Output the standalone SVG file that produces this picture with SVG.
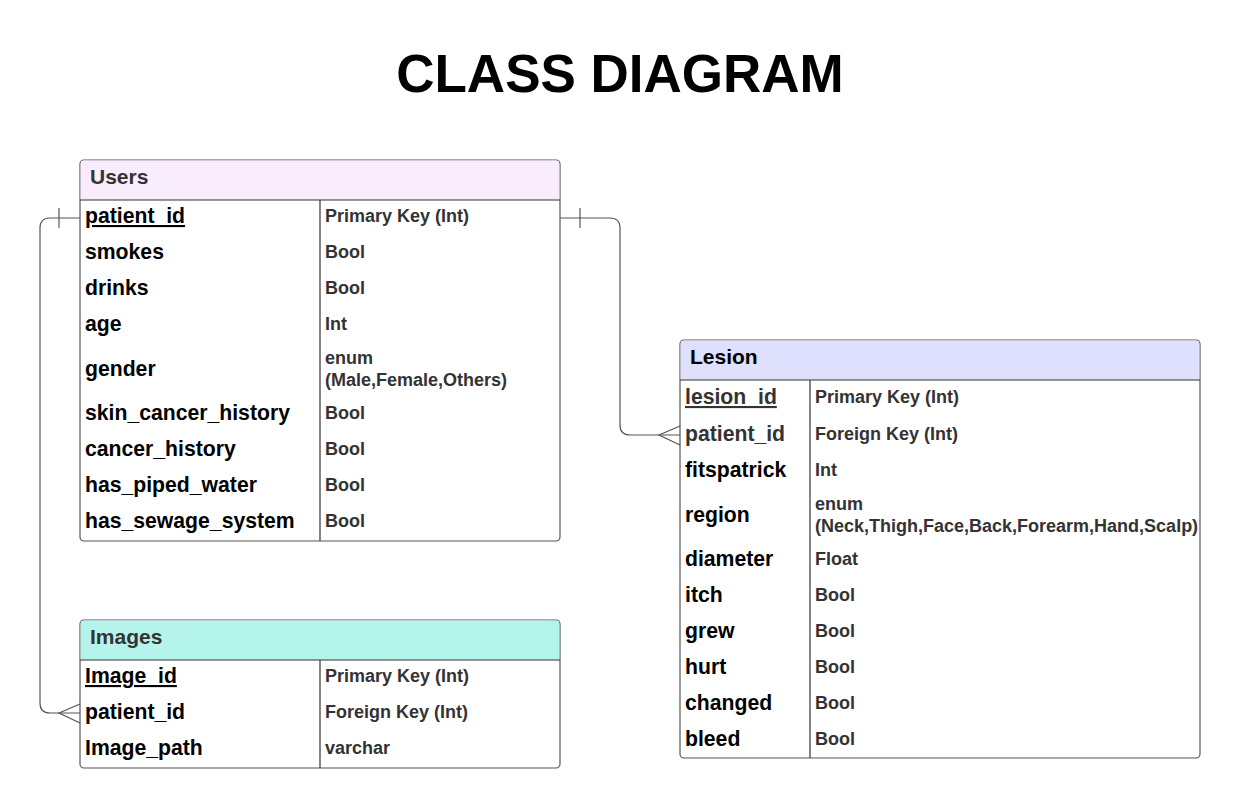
<svg xmlns="http://www.w3.org/2000/svg" width="1241" height="808" viewBox="0 0 1241 808">
<style>
.title{font-family:"Liberation Sans",Arial,sans-serif;font-weight:bold;font-size:53px;fill:#000}
.hd{font-family:"Liberation Sans",Arial,sans-serif;font-weight:bold;font-size:21px;fill:#333}
.nm{font-family:"Liberation Sans",Arial,sans-serif;font-weight:bold;font-size:21.2px;fill:#000}
.nmg{fill:#333}
.ty{font-family:"Liberation Sans",Arial,sans-serif;font-weight:bold;font-size:18px;fill:#333}
.box{fill:#fff;stroke:#555;stroke-width:1.2}
.hline{stroke:#333;stroke-width:1.2}
.conn{fill:none;stroke:#555;stroke-width:1.2}
</style>
<rect width="1241" height="808" fill="#fff"/>
<text class="title" x="620" y="92" text-anchor="middle">CLASS DIAGRAM</text>

<g id="users">
<rect class="box" x="80" y="160" width="480" height="381" rx="4"/>
<path d="M84 160.6 H556 A3.4 3.4 0 0 1 559.4 164 V200 H80.6 V164 A3.4 3.4 0 0 1 84 160.6 Z" fill="#f9ecfc"/>
<line class="hline" x1="80" y1="200" x2="560" y2="200"/>
<line class="hline" x1="320" y1="200" x2="320" y2="541"/>
<text class="hd" x="90" y="184">Users</text>
<text class="nm" x="85" y="223" text-decoration="underline">patient_id</text>
<text class="nm" x="85" y="259">smokes</text>
<text class="nm" x="85" y="295">drinks</text>
<text class="nm" x="85" y="331">age</text>
<text class="nm" x="85" y="376">gender</text>
<text class="nm" x="85" y="420">skin_cancer_history</text>
<text class="nm" x="85" y="456">cancer_history</text>
<text class="nm" x="85" y="492">has_piped_water</text>
<text class="nm" x="85" y="528">has_sewage_system</text>
<text class="ty" x="325" y="222">Primary Key (Int)</text>
<text class="ty" x="325" y="258">Bool</text>
<text class="ty" x="325" y="294">Bool</text>
<text class="ty" x="325" y="330">Int</text>
<text class="ty" x="325" y="364">enum</text>
<text class="ty" x="325" y="386">(Male,Female,Others)</text>
<text class="ty" x="325" y="419">Bool</text>
<text class="ty" x="325" y="455">Bool</text>
<text class="ty" x="325" y="491">Bool</text>
<text class="ty" x="325" y="527">Bool</text>
</g>

<g id="lesion">
<rect class="box" x="680" y="340" width="520" height="418" rx="4"/>
<path d="M684 340.6 H1196 A3.4 3.4 0 0 1 1199.4 344 V380 H680.6 V344 A3.4 3.4 0 0 1 684 340.6 Z" fill="#dfe0fd"/>
<line class="hline" x1="680" y1="380" x2="1200" y2="380"/>
<line class="hline" x1="810" y1="380" x2="810" y2="758"/>
<text class="hd" x="690" y="364" style="fill:#000">Lesion</text>
<text class="nm nmg" x="685" y="404" text-decoration="underline">lesion_id</text>
<text class="nm nmg" x="685" y="441">patient_id</text>
<text class="nm" x="685" y="477">fitspatrick</text>
<text class="nm" x="685" y="522">region</text>
<text class="nm" x="685" y="566">diameter</text>
<text class="nm" x="685" y="602">itch</text>
<text class="nm" x="685" y="638">grew</text>
<text class="nm" x="685" y="674">hurt</text>
<text class="nm" x="685" y="710">changed</text>
<text class="nm" x="685" y="746">bleed</text>
<text class="ty" x="815" y="403">Primary Key (Int)</text>
<text class="ty" x="815" y="440">Foreign Key (Int)</text>
<text class="ty" x="815" y="476">Int</text>
<text class="ty" x="815" y="510">enum</text>
<text class="ty" x="815" y="532">(Neck,Thigh,Face,Back,Forearm,Hand,Scalp)</text>
<text class="ty" x="815" y="565">Float</text>
<text class="ty" x="815" y="601">Bool</text>
<text class="ty" x="815" y="637">Bool</text>
<text class="ty" x="815" y="673">Bool</text>
<text class="ty" x="815" y="709">Bool</text>
<text class="ty" x="815" y="745">Bool</text>
</g>

<g id="images">
<rect class="box" x="80" y="620" width="480" height="148" rx="4"/>
<path d="M84 620.6 H556 A3.4 3.4 0 0 1 559.4 624 V660 H80.6 V624 A3.4 3.4 0 0 1 84 620.6 Z" fill="#b4f4eb"/>
<line class="hline" x1="80" y1="660" x2="560" y2="660"/>
<line class="hline" x1="320" y1="660" x2="320" y2="768"/>
<text class="hd" x="90" y="644">Images</text>
<text class="nm" x="85" y="683" text-decoration="underline">Image_id</text>
<text class="nm" x="85" y="719">patient_id</text>
<text class="nm" x="85" y="755">Image_path</text>
<text class="ty" x="325" y="682">Primary Key (Int)</text>
<text class="ty" x="325" y="718">Foreign Key (Int)</text>
<text class="ty" x="325" y="754">varchar</text>
</g>

<g id="connectors">
<path class="conn" d="M80 218 H50 Q40 218 40 228 V703 Q40 713 50 713 H80"/>
<line class="conn" x1="59" y1="208" x2="59" y2="228"/>
<path class="conn" d="M80 704 L59 713 L80 723"/>
<path class="conn" d="M560 218 H610 Q620 218 620 228 V425 Q620 435 630 435 H680"/>
<line class="conn" x1="580" y1="208" x2="580" y2="228"/>
<path class="conn" d="M680 426 L659 435 L680 445"/>
</g>
</svg>
